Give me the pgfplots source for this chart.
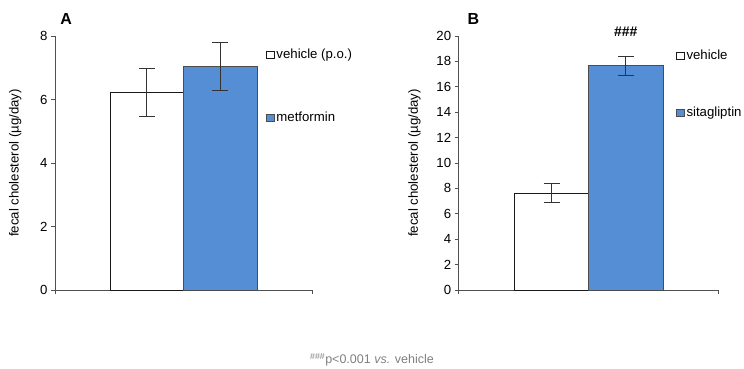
\documentclass[border=0pt]{standalone}
\usepackage{pgfplots}
\pgfplotsset{compat=1.18}
\usepackage{fontspec}
\setmainfont{Liberation Sans}
\definecolor{barblue}{HTML}{558ED5}
\definecolor{axgray}{HTML}{505050}
\pgfplotsset{
  panel/.style={
    anchor=south west,
    scale only axis,
    height=254pt,
    xmin=-1.75, xmax=1.75,
    ymin=0,
    axis x line*=bottom,
    axis y line*=left,
    axis line style={axgray,line width=0.8pt,-},
    tick style={axgray,line width=0.8pt},
    tick align=outside,
    major tick length=4pt,
    xtick={-1.75,1.75},
    xticklabels={},
    clip=false,
    ybar, bar width=1, bar shift=0pt,
    font=\fontsize{13.2}{15}\selectfont,
    tick label style={font=\fontsize{13.2}{15}\selectfont},
    /pgf/number format/assume math mode=true,
    ylabel style={font=\fontsize{13.2}{15}\selectfont},
    ylabel={fecal cholesterol (µg/day)},
    legend cell align=left,
    legend style={draw=none, fill=none, anchor=north west, font=\fontsize{13.2}{15}\selectfont,
      /tikz/every even column/.append style={column sep=1pt}},
    legend image code/.code={\draw[#1,line width=0.6pt] (0pt,-3.8pt) rectangle (7.5pt,3.8pt);},
    error bars/y dir=both, error bars/y explicit,
    error bars/error bar style={black!80,line width=0.8pt},
    error bars/error mark options={rotate=90,mark size=8pt,black!80,line width=0.8pt},
  }
}
\begin{document}
\begin{tikzpicture}
\path[use as bounding box] (0pt,0pt) rectangle (744pt,369pt);
\begin{axis}[panel, at={(55pt,79pt)}, width=257pt,
  ymax=8, ytick={0,2,4,6,8},
  ylabel style={yshift=12pt},
  legend style={at={(0.81,0.965)}, row sep=48pt}]
\addplot[fill=white, draw=black!90, line width=0.8pt] coordinates {(-0.5,6.22) +- (0,0.76)};
\addlegendentry{vehicle (p.o.)}
\addplot[fill=barblue, draw=black!70, line width=0.8pt] coordinates {(0.5,7.05) +- (0,0.75)};
\addlegendentry{metformin}
\node[font=\bfseries\fontsize{16}{18}\selectfont] at (rel axis cs:0.043,1.065) {A};
\end{axis}
\begin{axis}[panel, at={(458.7pt,79pt)}, width=260pt,
  ymax=20, ytick={0,2,...,20},
  ylabel style={yshift=9pt},
  legend style={at={(0.825,0.96)}, row sep=42pt}]
\addplot[fill=white, draw=black!90, line width=0.8pt] coordinates {(-0.5,7.62) +- (0,0.76)};
\addlegendentry{vehicle}
\addplot[fill=barblue, draw=black!70, line width=0.8pt] coordinates {(0.5,17.65) +- (0,0.75)};
\addlegendentry{sitagliptin}
\node[font=\bfseries\fontsize{16}{18}\selectfont] at (rel axis cs:0.057,1.065) {B};
\node[font=\bfseries\fontsize{14}{16}\selectfont] at (axis cs:0.5,20.3) {\#\#\#};
\end{axis}
\node[text=black!50, font=\fontsize{12.5}{14}\selectfont] at (372pt,9pt) {\textsuperscript{\#\#\#}p<0.001 \textit{vs.} vehicle};
\end{tikzpicture}
\end{document}
